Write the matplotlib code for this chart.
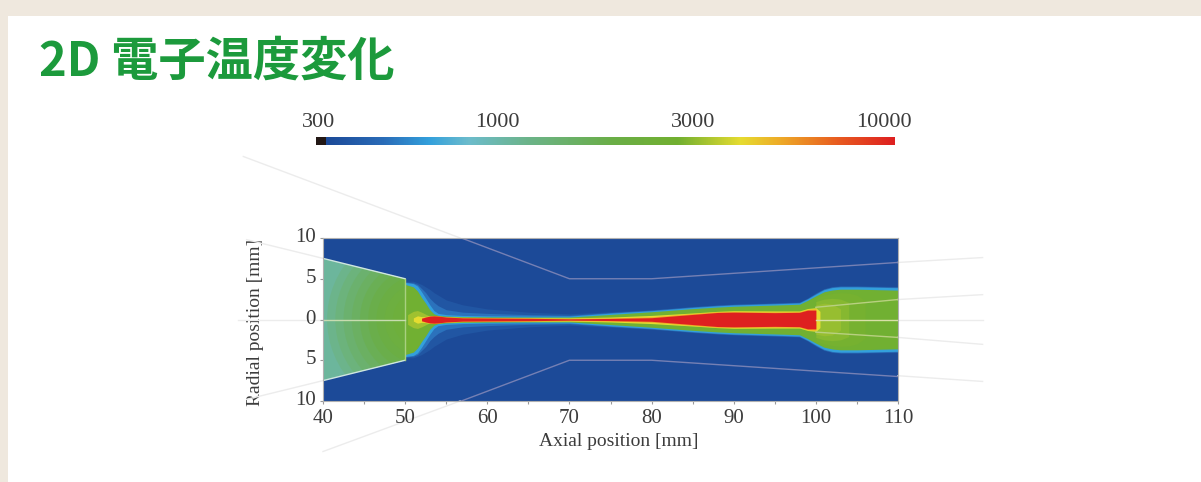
import numpy as np
import matplotlib
matplotlib.use('Agg')
import matplotlib.pyplot as plt
from matplotlib.colors import LinearSegmentedColormap, LogNorm
from matplotlib.patches import Ellipse, Polygon, Rectangle
from matplotlib.transforms import ScaledTranslation

W, H = 1201, 482

#colour scale at the top
bar_fracs = [0, .10, .18, .25, .35, .50, .62, .73, .80, .90, 1]
bar_colors = ['#1c4a98', '#2a6cb8', '#33a0dc', '#6cbccc', '#6cb48c', '#6aae48',
              '#72b030', '#e6dc30', '#eeaa28', '#e85c20', '#de2020']
bar_ticks = ['300', '1000', '3000', '10000']
bar_tick_px = [319, 497, 693, 884]

#half widths of the temperature bands [mm] at each axial station
stations = [50, 51, 51.5, 52, 52.5, 53, 53.5, 54, 55, 57, 60, 65, 70, 75, 80,
            85, 88, 90, 95, 98, 99, 100, 100.5, 101, 102, 103, 105, 110]
band_temps = [430, 540, 680, 2700]
halo_outer = [4.7, 4.7, 4.5, 4.3, 4.0, 3.7, 3.3, 3.0, 2.4, 1.8, 1.3, .9, .7, .95,
              1.2, 1.6, 1.8, 1.9, 2.05, 2.15, 2.65, 3.3, 3.55, 3.8, 4.05, 4.15, 4.15, 4.05]
halo_inner = [4.6, 4.5, 4.3, 3.8, 3.3, 2.6, 2.1, 1.7, 1.2, .9, .75, .6, .52, .85,
              1.15, 1.55, 1.75, 1.85, 2.0, 2.1, 2.6, 3.2, 3.48, 3.75, 4.0, 4.08, 4.08, 3.98]
cyan_band = [4.55, 4.4, 4.1, 3.4, 2.6, 1.8, 1.1, .75, .6, .5, .45, .42, .42, .78,
             1.08, 1.48, 1.68, 1.78, 1.93, 2.03, 2.53, 3.12, 3.4, 3.66, 3.92, 4.0, 4.0, 3.9]
green_band = [4.3, 4.0, 3.5, 2.7, 2.0, 1.2, .7, .5, .42, .35, .32, .3, .3, .62,
              .95, 1.33, 1.52, 1.62, 1.77, 1.87, 2.35, 2.9, 3.15, 3.4, 3.62, 3.72, 3.72, 3.6]
#hot spot at the nozzle exit
spot_x = [50.3, 51, 51.5, 52, 53]
spot_hw = [.6, 1.0, 1.1, .9, .4]
spot_temp = 3150
core_temps = [3900, 5000, 9300]
yellow_core = [0, .2, .45, .35, .38, .45, .45, .4, .32, .27, .25, .22, .2, .3,
               .5, .8, 1.0, 1.08, 1.05, 1.05, 1.35, 1.45, 1.0, 0, 0, 0, 0, 0]
orange_core = [0, 0, 0, .22, .35, .45, .47, .45, .33, .23, .21, .18, .14, .2,
               .33, .72, .95, .98, .93, .95, 1.25, 1.3, 0, 0, 0, 0, 0, 0]
red_core = [0, 0, 0, .15, .3, .42, .45, .42, .3, .2, .18, .15, .08, .13,
            .22, .62, .86, .9, .84, .88, 1.15, 1.15, 0, 0, 0, 0, 0, 0]

#lighter plume behind the head, x=100 and up
plume_x = [100, 101, 102, 103, 104, 105, 106, 107]
plume_temps = [2800, 2950, 3100]
plume_hw = [[2.6, 3.0, 3.2, 3.3, 3.25, 3.0, 2.3, 0],
            [2.2, 2.5, 2.6, 2.5, 2.1, 0, 0, 0],
            [1.8, 2.0, 1.9, 1.3, 0, 0, 0, 0]]

#cone on the inlet side, arcs around x=52
cone_x = [40, 50]
cone_hw = [7.5, 5.0]
cone_temp = 1080
arc_radius = [11.5, 10.5, 9.5, 8.5, 7.5, 6.5, 5.5, 4.5, 3.5, 2.5]
arc_temps = [1180, 1300, 1440, 1580, 1720, 1860, 2000, 2140, 2280, 2400]

#electrode outlines
wall_x = [55, 70, 80, 110]
wall_hw = [10.7, 5, 5, 7]
outer_up_x, outer_up_y = [30.3, 56.7], [20, 10]
outer_lo_x, outer_lo_y = [40, 56.7], [-16.2, -10]
right_x, right_up, right_lo = [110, 120.3], [7, 7.6], [-6.9, -7.6]
cone_out_x, cone_out_y = [30.7, 40], [9.8, 7.5]
inner_x, inner_up, inner_lo = [100, 110, 120.3], [1.5, 2.45, 3.05], [-1.55, -2.2, -3.05]

xticks = [40, 50, 60, 70, 80, 90, 100, 110]
xminor = [45, 55, 65, 75, 85, 95, 105]
yticks = [-10, -5, 0, 5, 10]
ylabels = ['10', '5', '0', '5', '10']

cmap = LinearSegmentedColormap.from_list('te', list(zip(bar_fracs, bar_colors)))
norm = LogNorm(vmin=380, vmax=9350)
def tcolor(t):
    return cmap(norm(t))

def band(ax, xs, hw, t):
    xs, hw = np.array(xs, float), np.array(hw, float)
    ax.fill_between(xs, -hw, hw, where=hw > 0, color=tcolor(t), lw=0)

serif = 'Liberation Serif'
txt = '#3c3c3c'

fig = plt.figure(figsize=(W/100, H/100), dpi=100, facecolor='#efe8de')

#page background and title, pixel coordinates
bg = fig.add_axes([0, 0, 1, 1])
bg.set_xlim(0, W)
bg.set_ylim(H, 0)
bg.axis('off')
bg.add_patch(Rectangle((8, 16), W-8, H-16, color='white', lw=0))
bg.text(39, 76, '2D 電子温度変化', fontsize=34, fontweight='bold', color='#1c9a3c',
        family=['Noto Sans CJK JP', 'DejaVu Sans'], va='baseline')
for t, px in zip(bar_ticks, bar_tick_px):
    bg.text(px, 127, t, family=serif, fontsize=16, color=txt, ha='center', va='baseline')
bg.text(256, 322, 'Radial position [mm]', family=serif, fontsize=14, color=txt,
        rotation=90, ha='center', va='center')
bg.text(619, 441, 'Axial position [mm]', family=serif, fontsize=14, color=txt,
        ha='center', va='center')

#colour bar
cb = fig.add_axes([326/W, 1-145/H, 569/W, 8/H])
cb.imshow(np.linspace(0, 1, 256)[None, :], aspect='auto', cmap=cmap)
cb.axis('off')
bg.add_patch(Rectangle((316, 137), 10, 8, color='#231815', lw=0))

#main field
ax = fig.add_axes([323/W, 1-401/H, 575/W, 163/H], zorder=2)
ax.patch.set_alpha(0)
ax.add_patch(Rectangle((40, -10), 70, 20, color=cmap(0), lw=0, zorder=0))
ax.set_xlim(40, 110)
ax.set_ylim(-10, 10)

cone = Polygon([(cone_x[0], cone_hw[0]), (cone_x[1], cone_hw[1]),
                (cone_x[1], -cone_hw[1]), (cone_x[0], -cone_hw[0])],
               closed=True, fc=tcolor(cone_temp), ec='none')
ax.add_patch(cone)
for r, t in zip(arc_radius, arc_temps):
    e = Ellipse((52, 0), 2*r, 2*r, fc=tcolor(t), ec='none')
    ax.add_patch(e)
    e.set_clip_path(cone)

for hw, t in zip([halo_outer, halo_inner, cyan_band, green_band], band_temps):
    band(ax, stations, hw, t)
band(ax, spot_x, spot_hw, spot_temp)
for hw, t in zip(plume_hw, plume_temps):
    band(ax, plume_x, hw, t)
for hw, t in zip([yellow_core, orange_core, red_core], core_temps):
    band(ax, stations, hw, t)

#lines over the field
wall_c = '#7580b4'
ax.plot(wall_x, wall_hw, color=wall_c, lw=1)
ax.plot(wall_x, [-v for v in wall_hw], color=wall_c, lw=1)
ax.plot(cone_x, cone_hw, color='#cfe6e0', lw=1)
ax.plot(cone_x, [-v for v in cone_hw], color='#cfe6e0', lw=1)
ax.plot([50, 50], [-cone_hw[1], cone_hw[1]], color='#a8d080', lw=1)
ax.plot([40, 50], [0, 0], color='#c8dcb0', lw=1)
ax.plot([100, 110], [0, 0], color='#d8e0a8', lw=1)
ax.plot(inner_x[:2], inner_up[:2], color='#b8d080', lw=1)
ax.plot(inner_x[:2], inner_lo[:2], color='#b8d080', lw=1)

#faint lines outside the frame
pale = '#ececec'
for xs, ys in [(outer_up_x, outer_up_y), (outer_lo_x, outer_lo_y),
               (cone_out_x, cone_out_y), (cone_out_x, [-v for v in cone_out_y]),
               (right_x, right_up), (right_x, right_lo),
               (inner_x[1:], inner_up[1:]), (inner_x[1:], inner_lo[1:]),
               ([29.7, 40], [0, 0]), ([110, 120.3], [0, 0])]:
    ax.plot(xs, ys, color=pale, lw=1, clip_on=False, zorder=1)

ax.set_xticks(xticks)
ax.set_xticks(xminor, minor=True)
ax.set_yticks(yticks)
ax.set_yticklabels(ylabels)
ax.tick_params(which='both', length=2, width=.8, color='#999999', labelcolor=txt,
               labelsize=15)
ax.tick_params(axis='x', pad=4)
ax.tick_params(axis='y', pad=3)
for lab in ax.get_xticklabels() + ax.get_yticklabels():
    lab.set_family(serif)
#y labels sit a little above their ticks
up = ScaledTranslation(0, .03, fig.dpi_scale_trans)
for lab in ax.get_yticklabels():
    lab.set_transform(lab.get_transform() + up)
for s in ax.spines.values():
    s.set_color('#b0b0b0')
    s.set_linewidth(.8)

fig.savefig('out.png', dpi=100, facecolor=fig.get_facecolor())
